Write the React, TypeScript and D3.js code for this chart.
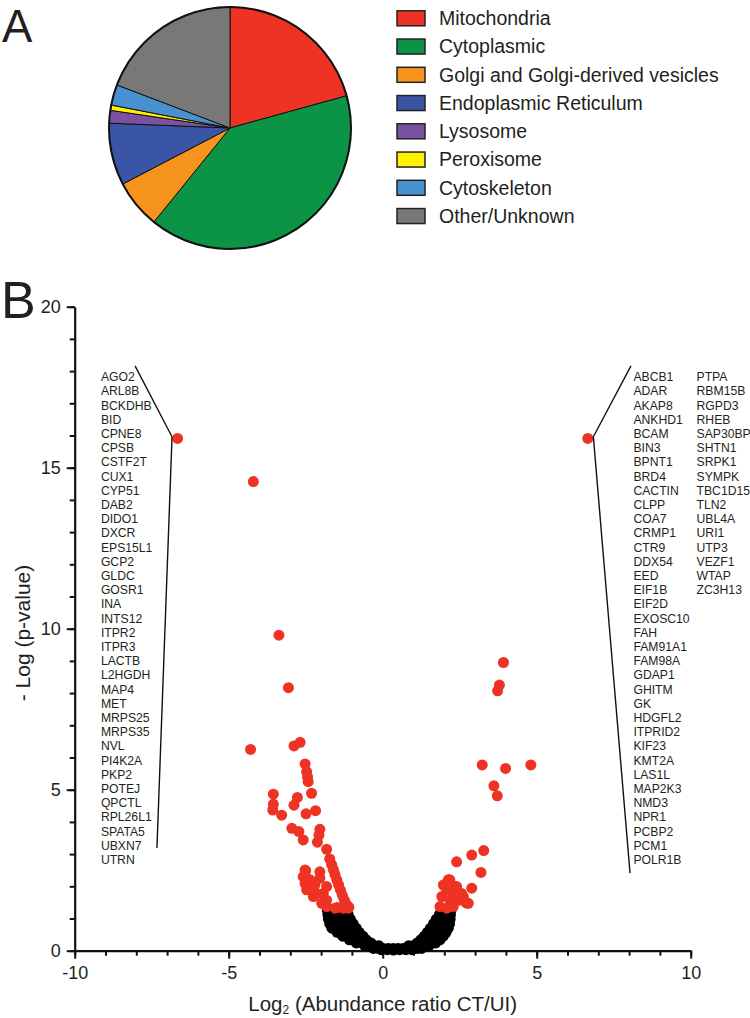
import React, { useRef, useEffect } from "react";
import * as d3 from "d3";

// Panel A: subcellular localisation (% of proteins)
const compartments = [
  "Mitochondria",
  "Cytoplasmic",
  "Golgi and Golgi-derived vesicles",
  "Endoplasmic Reticulum",
  "Lysosome",
  "Peroxisome",
  "Cytoskeleton",
  "Other/Unknown",
];
const compartmentShare = [20.7, 40.1, 6.5, 8.3, 1.7, 0.7, 2.75, 19.2];
const compartmentColors = ["#ee3224", "#0b9445", "#f7941d", "#3a55a5", "#7b52a2", "#fff200", "#4990d1", "#787878"];

// Panel B: volcano plot
const xMajorTicks = [-10, -5, 0, 5, 10];
const yMajorTicks = [0, 5, 10, 15, 20];

const downGenes = [
  "AGO2", "ARL8B", "BCKDHB", "BID", "CPNE8", "CPSB", "CSTF2T", "CUX1", "CYP51", "DAB2",
  "DIDO1", "DXCR", "EPS15L1", "GCP2", "GLDC", "GOSR1", "INA", "INTS12", "ITPR2", "ITPR3",
  "LACTB", "L2HGDH", "MAP4", "MET", "MRPS25", "MRPS35", "NVL", "PI4K2A", "PKP2", "POTEJ",
  "QPCTL", "RPL26L1", "SPATA5", "UBXN7", "UTRN",
];
const upGenesA = [
  "ABCB1", "ADAR", "AKAP8", "ANKHD1", "BCAM", "BIN3", "BPNT1", "BRD4", "CACTIN", "CLPP",
  "COA7", "CRMP1", "CTR9", "DDX54", "EED", "EIF1B", "EIF2D", "EXOSC10", "FAH", "FAM91A1",
  "FAM98A", "GDAP1", "GHITM", "GK", "HDGFL2", "ITPRID2", "KIF23", "KMT2A", "LAS1L", "MAP2K3",
  "NMD3", "NPR1", "PCBP2", "PCM1", "POLR1B",
];
const upGenesB = [
  "PTPA", "RBM15B", "RGPD3", "RHEB", "SAP30BP", "SHTN1", "SRPK1", "SYMPK", "TBC1D15", "TLN2",
  "UBL4A", "URI1", "UTP3", "VEZF1", "WTAP", "ZC3H13",
];

// significant proteins [log2 ratio, -log p]
const redPoints: [number, number][] = [
  [-6.66, 15.91], [-4.2, 14.57], [-3.37, 9.8], [-3.06, 8.17], [-4.29, 6.25], [-2.88, 6.36],
  [-2.68, 6.47], [-2.52, 5.8], [-2.47, 5.56], [-2.44, 5.4], [-2.42, 5.25], [-3.55, 4.86],
  [-2.31, 4.89], [-2.77, 4.76], [-2.88, 4.52], [-3.55, 4.55], [-3.57, 4.37], [-3.28, 4.21],
  [-2.49, 4.25], [-2.18, 4.35], [-2.95, 3.8], [-2.72, 3.7], [-2.58, 3.44], [-2.04, 3.77],
  [-2.07, 3.59], [-2.12, 3.37], [-1.82, 3.15], [-1.72, 2.85], [-1.66, 2.68], [-1.6, 2.52],
  [-1.55, 2.37], [-1.49, 2.2], [-1.43, 2.04], [-1.37, 1.88], [-1.31, 1.72], [-1.24, 1.56],
  [-1.17, 1.42], [-1.1, 1.35], [-2.52, 2.51], [-2.58, 2.3], [-2.52, 2.09], [-2.36, 2.2],
  [-2.04, 2.45], [-2.04, 2.25], [-2.31, 1.94], [-2.14, 1.78], [-1.93, 1.78], [-1.82, 1.57],
  [-2.47, 1.89], [-2.25, 1.68], [-1.98, 1.47], [-1.82, 1.37], [-1.55, 1.32], [-1.28, 1.32],
  [-1.12, 1.32], [-2.5, 2.48], [-1.82, 1.99], [-1.48, 1.34], [-2.2, 2.05],
  [6.66, 15.91], [3.92, 8.95], [3.79, 8.25], [3.73, 8.07], [3.23, 5.77], [3.99, 5.66],
  [4.81, 5.77], [3.61, 5.12], [3.72, 4.81], [3.28, 3.11], [2.89, 2.97], [2.4, 2.76],
  [3.19, 2.43], [2.89, 1.94], [2.13, 2.2], [2.24, 2.04], [2.08, 1.89], [1.92, 1.68],
  [1.86, 1.37], [2.08, 1.32], [2.29, 1.37], [2.35, 1.73], [2.56, 1.78], [2.51, 1.57],
  [2.78, 1.47], [2.62, 1.68], [2.4, 1.99], [2.29, 1.83], [1.97, 2.04], [2.18, 1.57],
  [2.72, 1.48], [2.18, 2.2],
];

// non-significant proteins
const blackPoints: [number, number][] = [
  [-1.8, 1.26], [-1.62, 1.26], [-1.44, 1.26], [-1.26, 1.26], [1.92, 1.26], [2.1, 1.26], [2.22, 1.26],
  [-1.78, 1.12], [-1.6, 1.12], [-1.42, 1.12], [-1.25, 1.12], [-1.12, 1.12], [1.84, 1.12], [2.02, 1.12], [2.2, 1.12],
  [-1.76, 0.98], [-1.58, 0.98], [-1.4, 0.98], [-1.22, 0.98], [-1.05, 0.98], [1.74, 0.98], [1.92, 0.98], [2.1, 0.98], [2.19, 0.98],
  [-1.72, 0.84], [-1.54, 0.84], [-1.36, 0.84], [-1.18, 0.84], [-0.96, 0.84], [1.65, 0.84], [1.83, 0.84], [2.01, 0.84], [2.17, 0.84],
  [-1.65, 0.7], [-1.47, 0.7], [-1.29, 0.7], [-1.11, 0.7], [-0.86, 0.7], [1.55, 0.7], [1.73, 0.7], [1.91, 0.7], [2.13, 0.7],
  [-1.48, 0.57], [-1.3, 0.57], [-1.12, 0.57], [-0.94, 0.57], [-0.76, 0.57], [1.45, 0.57], [1.63, 0.57], [1.81, 0.57], [2.06, 0.57],
  [-1.3, 0.45], [-1.12, 0.45], [-0.94, 0.45], [-0.76, 0.45], [-0.64, 0.45], [1.35, 0.45], [1.53, 0.45], [1.71, 0.45], [1.97, 0.45],
  [-1.08, 0.34], [-0.9, 0.34], [-0.72, 0.34], [-0.54, 0.34], [1.24, 0.34], [1.42, 0.34], [1.6, 0.34], [1.86, 0.34],
  [-0.86, 0.24], [-0.68, 0.24], [-0.5, 0.24], [-0.38, 0.24], [1.12, 0.24], [1.3, 0.24], [1.5, 0.24], [1.72, 0.24],
  [-0.58, 0.15], [-0.42, 0.15], [-0.26, 0.15], [-0.12, 0.15], [0.84, 0.15], [0.98, 0.15], [1.14, 0.15], [1.32, 0.15], [1.5, 0.15],
  [-0.3, 0.07], [-0.14, 0.07], [0.02, 0.07], [0.18, 0.07], [0.34, 0.07], [0.5, 0.07], [0.66, 0.07], [0.82, 0.07], [0.98, 0.07], [1.12, 0.07], [1.26, 0.07],
  [-0.05, 0.03], [0.15, 0.03], [0.35, 0.02], [0.55, 0.03], [0.75, 0.03], [0.95, 0.03],
];

// leader lines from the two extreme points to the gene lists
const leftLeader: [number, number][] = [[-8.04, 18.16], [-6.84, 15.96], [-7.33, 3.19]];
const rightLeader: [number, number][] = [[8.06, 18.16], [6.84, 15.96], [8.03, 2.41]];

const FONT = "'Liberation Sans', Arial, Helvetica, sans-serif";

function App() {
  const svgRef = useRef<SVGSVGElement>(null);

  useEffect(() => {
    const width = 750;
    const height = 1018;
    const svg = d3.select(svgRef.current);
    svg.selectAll("*").remove();
    svg.attr("width", width).attr("height", height);

    svg.append("rect").attr("width", width).attr("height", height).attr("fill", "#fff");

    // ---------- Panel A ----------
    svg.append("text").attr("x", 2).attr("y", 41.5)
      .attr("font-family", FONT).attr("font-size", 45.5).attr("fill", "#231f20").text("A");

    const pieG = svg.append("g").attr("transform", "translate(230,128)");
    const pie = d3.pie<number>().sort(null).value(d => d);
    const arc = d3.arc<d3.PieArcDatum<number>>().innerRadius(0).outerRadius(121);
    pieG.selectAll("path")
      .data(pie(compartmentShare))
      .enter()
      .append("path")
      .attr("d", arc)
      .attr("fill", (d, i) => compartmentColors[i])
      .attr("stroke", "#111")
      .attr("stroke-width", 1);
    pieG.append("circle").attr("r", 121).attr("fill", "none").attr("stroke", "#111").attr("stroke-width", 2);

    const legend = svg.append("g").attr("transform", "translate(397,18.3)");
    compartments.forEach((name, i) => {
      const row = legend.append("g").attr("transform", `translate(0,${i * 28.25})`);
      row.append("rect").attr("x", 0).attr("y", -7.5).attr("width", 28).attr("height", 15)
        .attr("fill", compartmentColors[i]).attr("stroke", "#222").attr("stroke-width", 1.5);
      row.append("text").attr("x", 42).attr("y", 0).attr("dy", "0.35em")
        .attr("font-family", FONT).attr("font-size", 19.5).attr("fill", "#231f20").text(name);
    });

    // ---------- Panel B ----------
    svg.append("text").attr("x", 1).attr("y", 318)
      .attr("font-family", FONT).attr("font-size", 52).attr("fill", "#231f20").text("B");

    const x = d3.scaleLinear().domain([-10, 10]).range([74.7, 690.7]);
    const y = d3.scaleLinear().domain([0, 20]).range([950.7, 306.7]);

    // minor ticks
    svg.append("g")
      .attr("transform", `translate(0,${y(0)})`)
      .call(d3.axisBottom(x).tickValues(d3.range(-10, 11)).tickSize(5).tickSizeOuter(0).tickFormat(() => ""))
      .call(g => g.selectAll("line").attr("stroke", "#111").attr("stroke-width", 2))
      .call(g => g.select(".domain").remove());
    svg.append("g")
      .attr("transform", `translate(${x(-10)},0)`)
      .call(d3.axisLeft(y).tickValues(d3.range(0, 21)).tickSize(5).tickSizeOuter(0).tickFormat(() => ""))
      .call(g => g.selectAll("line").attr("stroke", "#111").attr("stroke-width", 2))
      .call(g => g.select(".domain").remove());

    // major ticks + labels
    const xAxis = svg.append("g")
      .attr("transform", `translate(0,${y(0)})`)
      .call(d3.axisBottom(x).tickValues(xMajorTicks).tickSize(8).tickPadding(8).tickSizeOuter(0).tickFormat(d3.format("d")));
    const yAxis = svg.append("g")
      .attr("transform", `translate(${x(-10)},0)`)
      .call(d3.axisLeft(y).tickValues(yMajorTicks).tickSize(8).tickPadding(6).tickSizeOuter(0).tickFormat(d3.format("d")));
    [xAxis, yAxis].forEach(ax => {
      ax.select(".domain").attr("stroke", "#111").attr("stroke-width", 2.2);
      ax.selectAll("line").attr("stroke", "#111").attr("stroke-width", 2);
      ax.selectAll("text").attr("font-family", FONT).attr("font-size", 18).attr("fill", "#231f20");
    });
    xAxis.selectAll("text").text((d: any) => (d < 0 ? `-${Math.abs(d)}` : `${d}`));

    // axis titles
    const xTitle = svg.append("text")
      .attr("x", x(0)).attr("y", 1011)
      .attr("text-anchor", "middle")
      .attr("font-family", FONT).attr("font-size", 20.5).attr("fill", "#231f20");
    xTitle.append("tspan").text("Log");
    xTitle.append("tspan").attr("font-size", 12).attr("dy", 3).text("2");
    xTitle.append("tspan").attr("dy", -3).text(" (Abundance ratio CT/UI)");

    svg.append("text")
      .attr("transform", `translate(30,633) rotate(-90)`)
      .attr("text-anchor", "middle")
      .attr("font-family", FONT).attr("font-size", 21).attr("fill", "#231f20")
      .text("- Log (p-value)");

    // points
    svg.append("g")
      .selectAll("circle")
      .data(blackPoints)
      .enter()
      .append("circle")
      .attr("cx", d => x(d[0]))
      .attr("cy", d => y(d[1]))
      .attr("r", 5.5)
      .attr("fill", "#000");

    svg.append("g")
      .selectAll("circle")
      .data(redPoints)
      .enter()
      .append("circle")
      .attr("cx", d => x(d[0]))
      .attr("cy", d => y(d[1]))
      .attr("r", 5.5)
      .attr("fill", "#ee3224");

    // leader lines
    const line = d3.line<[number, number]>().x(d => x(d[0])).y(d => y(d[1]));
    [leftLeader, rightLeader].forEach(pts => {
      svg.append("path").attr("d", line(pts)).attr("fill", "none").attr("stroke", "#111").attr("stroke-width", 1.4);
    });

    // gene lists
    const rowStep = 14.2;
    const listTop = y(17.82);
    const geneList = (genes: string[], xv: number) => {
      svg.append("g")
        .selectAll("text")
        .data(genes)
        .enter()
        .append("text")
        .attr("x", x(xv))
        .attr("y", (d, i) => listTop + i * rowStep)
        .attr("dy", "0.36em")
        .attr("font-family", FONT)
        .attr("font-size", 12.2)
        .attr("fill", "#231f20")
        .text(d => d);
    };
    geneList(downGenes, -9.15);
    geneList(upGenesA, 8.14);
    geneList(upGenesB, 10.19);
  }, []);

  return (
    <div style={{ position: "absolute", left: 0, top: 0 }}>
      <svg ref={svgRef} style={{ display: "block" }}></svg>
    </div>
  );
}

export default App;
